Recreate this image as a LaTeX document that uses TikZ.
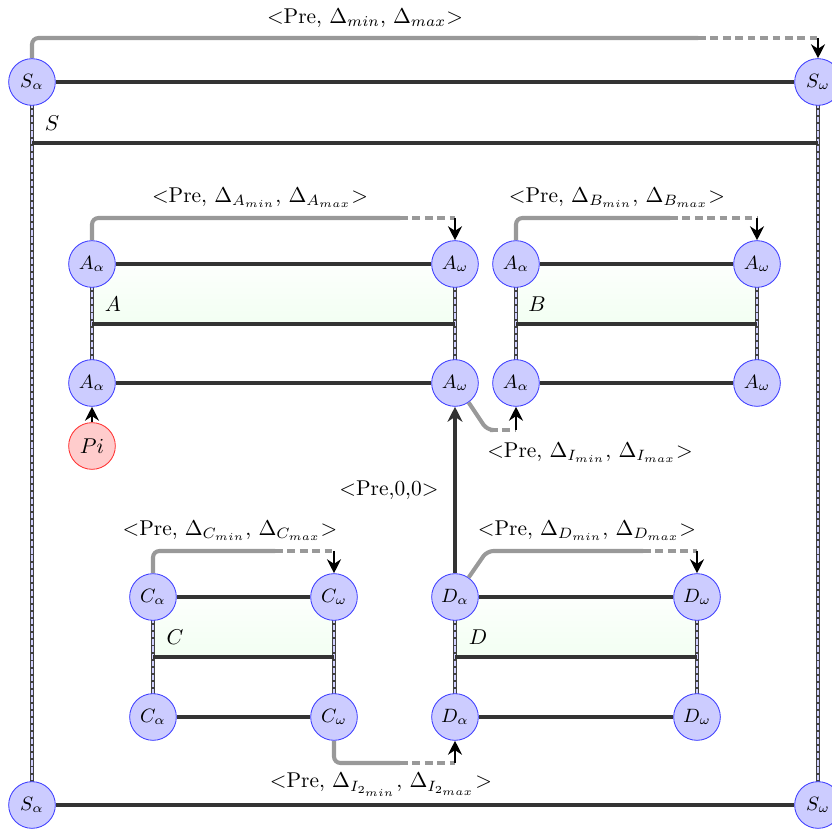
\documentclass[tikz,border=0pt]{standalone}
\usetikzlibrary{arrows.meta}
\tikzset{
  st/.style={circle, draw=blue!75, fill=blue!20, minimum size=21.8pt, inner sep=0pt, font=\small},
  pinode/.style={circle, draw=red!80, fill=red!20, minimum size=21.8pt, inner sep=0pt},
  bar/.style={line width=1.9pt, draw=black!80},
  vout/.style={line width=2.3pt, draw=black!75},
  vin/.style={line width=0.85pt, draw=blue!18, dash pattern=on 2.4pt off 0.9pt},
  gl/.style={line width=1.9pt, draw=black!40, rounded corners=3pt},
  gld/.style={line width=1.9pt, draw=black!40, dash pattern=on 3.6pt off 2.2pt},
  arr/.style={line width=1.3pt, draw=black, -{Stealth[length=6.5pt,width=6.5pt]}},
  darr/.style={line width=1.9pt, draw=black!80, -{Stealth[length=7pt,width=7pt]}},
  boxfill/.style={top color=green!1, bottom color=green!5, draw=none},
  lab/.style={inner sep=0pt}
}
\begin{document}
\begin{tikzpicture}[x=0.467pt,y=-0.467pt]
\useasboundingbox (0,0) rectangle (832,829);
% fills
\fill[boxfill] (92,264) rectangle (455,324);
\fill[boxfill] (516,264) rectangle (757,324);
\fill[boxfill] (153,597) rectangle (334,657);
\fill[boxfill] (455,597) rectangle (697,657);
% vertical double lines
\foreach \a/\b in {{32,82}/{32,805},{818,82}/{818,805},{92,264}/{92,383},{455,264}/{455,383},{516,264}/{516,383},{757,264}/{757,383},{153,597}/{153,717},{334,597}/{334,717},{455,597}/{455,717},{697,597}/{697,717}}{
  \draw[vout] (\a) -- (\b);
  \draw[vin] (\a) -- (\b);
}
% box bottom lines
\draw[bar] (32,143) -- (818,143);
\draw[bar] (92,324) -- (455,324);
\draw[bar] (516,324) -- (757,324);
\draw[bar] (153,657) -- (334,657);
\draw[bar] (455,657) -- (697,657);
% nodes
\node[st] (Sa1) at (32,82) {$S_\alpha$};
\node[st] (Sw1) at (818,82) {$S_\omega$};
\node[st] (Sa2) at (32,805) {$S_\alpha$};
\node[st] (Sw2) at (818,805) {$S_\omega$};
\node[st] (Aa1) at (92,264) {$A_\alpha$};
\node[st] (Aw1) at (455,264) {$A_\omega$};
\node[st] (Aa2) at (92,383) {$A_\alpha$};
\node[st] (Aw2) at (455,383) {$A_\omega$};
\node[st] (Ba1) at (516,264) {$A_\alpha$};
\node[st] (Bw1) at (757,264) {$A_\omega$};
\node[st] (Ba2) at (516,383) {$A_\alpha$};
\node[st] (Bw2) at (757,383) {$A_\omega$};
\node[pinode] (Pi) at (92,446) {$Pi$};
\node[st] (Ca1) at (153,597) {$C_\alpha$};
\node[st] (Cw1) at (334,597) {$C_\omega$};
\node[st] (Ca2) at (153,717) {$C_\alpha$};
\node[st] (Cw2) at (334,717) {$C_\omega$};
\node[st] (Da1) at (455,597) {$D_\alpha$};
\node[st] (Dw1) at (697,597) {$D_\omega$};
\node[st] (Da2) at (455,717) {$D_\alpha$};
\node[st] (Dw2) at (697,717) {$D_\omega$};
% horizontal bars between nodes
\draw[bar] (Sa1) -- (Sw1);
\draw[bar] (Sa2) -- (Sw2);
\draw[bar] (Aa1) -- (Aw1);
\draw[bar] (Aa2) -- (Aw2);
\draw[bar] (Ba1) -- (Bw1);
\draw[bar] (Ba2) -- (Bw2);
\draw[bar] (Ca1) -- (Cw1);
\draw[bar] (Ca2) -- (Cw2);
\draw[bar] (Da1) -- (Dw1);
\draw[bar] (Da2) -- (Dw2);
% box labels
\node[lab] (lS) at (52,123) {$S$};
\node[lab] (lA) at (113,304) {$A$};
\node[lab] (lB) at (537,304) {$B$};
\node[lab] (lC) at (175,637) {$C$};
\node[lab] (lD) at (478,637) {$D$};
% S arc
\coordinate (s1) at (698,38); \coordinate (s2) at (818,38);
\draw[gl] (Sa1.north) |- (s1);
\draw[gld] (s1) -- (s2);
\draw[arr] (s2) -- (Sw1.north);
\node[lab] (tS) at (365,18) {$<$Pre, $\Delta_{min}$, $\Delta_{max}$$>$};
% A arc
\coordinate (a1) at (400,218); \coordinate (a2) at (455,218);
\draw[gl] (Aa1.north) |- (a1);
\draw[gld] (a1) -- (a2);
\draw[arr] (a2) -- (Aw1.north);
\node[lab] (tA) at (260,198) {$<$Pre, $\Delta_{A_{min}}$, $\Delta_{A_{max}}$$>$};
% B arc
\coordinate (b1) at (670,218); \coordinate (b2) at (757,218);
\draw[gl] (Ba1.north) |- (b1);
\draw[gld] (b1) -- (b2);
\draw[arr] (b2) -- (Bw1.north);
\node[lab] (tB) at (617,198) {$<$Pre, $\Delta_{B_{min}}$, $\Delta_{B_{max}}$$>$};
% C arc
\coordinate (c1) at (275,551); \coordinate (c2) at (334,551);
\draw[gl] (Ca1.north) |- (c1);
\draw[gld] (c1) -- (c2);
\draw[arr] (c2) -- (Cw1.north);
\node[lab] (tC) at (230,531) {$<$Pre, $\Delta_{C_{min}}$, $\Delta_{C_{max}}$$>$};
% D arc
\coordinate (d0) at (487,551); \coordinate (d1) at (643,551); \coordinate (d2) at (697,551);
\draw[gl] (Da1.55) -- (d0) -- (d1);
\draw[gld] (d1) -- (d2);
\draw[arr] (d2) -- (Dw1.north);
\node[lab] (tD) at (587,531) {$<$Pre, $\Delta_{D_{min}}$, $\Delta_{D_{max}}$$>$};
% I link A_omega -> B_alpha
\coordinate (i0) at (487,430); \coordinate (i1) at (490,430); \coordinate (i2) at (516,430);
\draw[gl] (Aw2.-55) -- (i0) -- (i1);
\draw[gld] (i1) -- (i2);
\draw[arr] (i2) -- (Ba2.south);
\node[lab] (tI) at (590,453) {$<$Pre, $\Delta_{I_{min}}$, $\Delta_{I_{max}}$$>$};
% I2 link C_omega -> D_alpha
\coordinate (j1) at (400,763); \coordinate (j2) at (455,763);
\draw[gl] (Cw2.south) |- (j1);
\draw[gld] (j1) -- (j2);
\draw[arr] (j2) -- (Da2.south);
\node[lab] (tI2) at (381,785) {$<$Pre, $\Delta_{I_{2_{min}}}$, $\Delta_{I_{2_{max}}}$$>$};
% D_alpha -> A_omega
\draw[darr] (Da1.north) -- (Aw2.south);
\node[lab] (t00) at (389,490) {$<$Pre,0,0$>$};
% Pi -> A_alpha
\draw[arr] (Pi.north) -- (Aa2.south);
\end{tikzpicture}
\end{document}
